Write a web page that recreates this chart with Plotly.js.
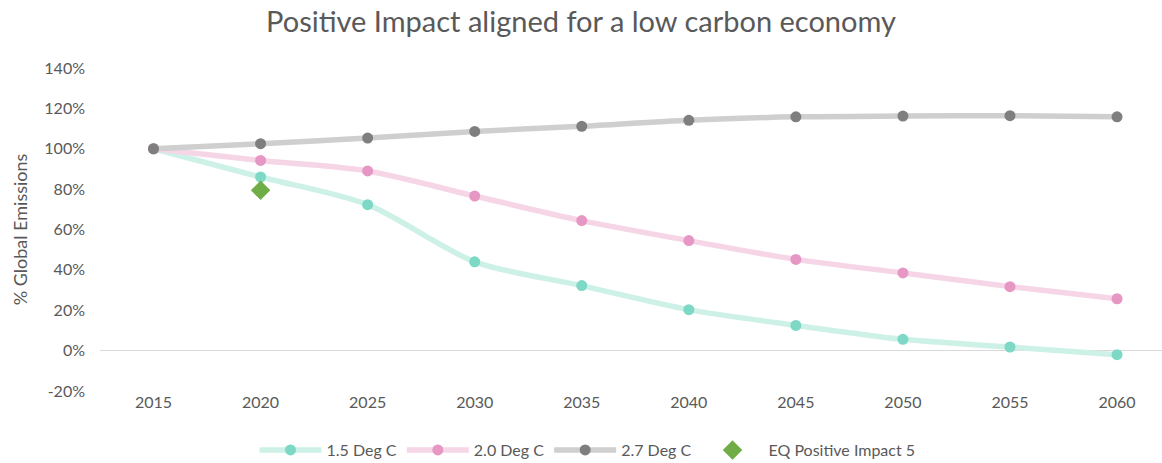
<!DOCTYPE html>
<html><head><meta charset="utf-8">
<script src="https://cdn.plot.ly/plotly-3.0.1.min.js"></script>
<style>html,body{margin:0;padding:0;background:#fff}#chart{width:1162px;height:463px}</style>
</head><body><div id="chart"></div>
<script>
const years = [2015, 2020, 2025, 2030, 2035, 2040, 2045, 2050, 2055, 2060];
const deg15 = [100, 86, 72.3, 44, 32.2, 20.3, 12.5, 5.6, 1.8, -2.0];
const deg20 = [100, 94.2, 89.0, 76.6, 64.4, 54.5, 45.2, 38.5, 31.7, 25.7];
const deg27 = [100, 102.5, 105.3, 108.6, 111.1, 114.1, 115.8, 116.2, 116.4, 115.8];
const eqYears = [2020];
const eqValues = [79.4];
const yTicks = [-20, 0, 20, 40, 60, 80, 100, 120, 140];

const font = {family: 'Lato, "Open Sans", sans-serif', color: '#595959'};
function series(name, y, lineColor, markerColor) {
  return {x: years, y: y.map(v => v / 100), name: name, type: 'scatter', mode: 'lines+markers',
    line: {color: lineColor, width: 5.5, shape: 'spline', smoothing: 0.8},
    marker: {color: markerColor, size: 11}};
}
const data = [
  series('1.5 Deg C', deg15, '#cdf1e7', '#7dd8c6'),
  series('2.0 Deg C', deg20, '#f6d5e7', '#e797c3'),
  series('2.7 Deg C', deg27, '#cfcfcf', '#7f7f7f'),
  {x: eqYears, y: eqValues.map(v => v / 100), name: 'EQ Positive Impact 5', type: 'scatter', mode: 'markers',
   marker: {symbol: 'diamond', color: '#70ad47', size: 15}}
];
const layout = {
  width: 1162, height: 463,
  margin: {l: 100, r: 0, t: 68, b: 72, autoexpand: false},
  paper_bgcolor: '#fff', plot_bgcolor: '#fff',
  title: {text: 'Positive Impact aligned for a low carbon economy', x: 0.5, xanchor: 'center',
    yref: 'container', y: 0.952, yanchor: 'middle',
    font: Object.assign({}, font, {size: 29})},
  font: Object.assign({}, font, {size: 16}),
  showlegend: true,
  legend: {orientation: 'h', xref: 'container', x: 0.219, xanchor: 'left', yref: 'container', y: 0.028, yanchor: 'middle',
    font: Object.assign({}, font, {size: 16}), itemwidth: 62},
  xaxis: {range: [2012.5, 2062.1], tickvals: years, ticktext: years.map(String), showgrid: false, zeroline: false,
    showline: false, ticks: '', tickfont: Object.assign({}, font, {size: 16})},
  yaxis: {range: [-0.2, 1.4], tickvals: yTicks.map(v => v / 100), ticktext: yTicks.map(v => v + '%'),
    showgrid: false, zeroline: true, zerolinecolor: '#d9d9d9', zerolinewidth: 1.5, showline: false, ticks: '',
    ticklabelstandoff: 14,
    tickfont: Object.assign({}, font, {size: 16}),
    title: {text: '% Global Emissions', font: Object.assign({}, font, {size: 18}), standoff: 12}}
};
Plotly.newPlot('chart', data, layout, {displayModeBar: false, staticPlot: true});
</script></body></html>
